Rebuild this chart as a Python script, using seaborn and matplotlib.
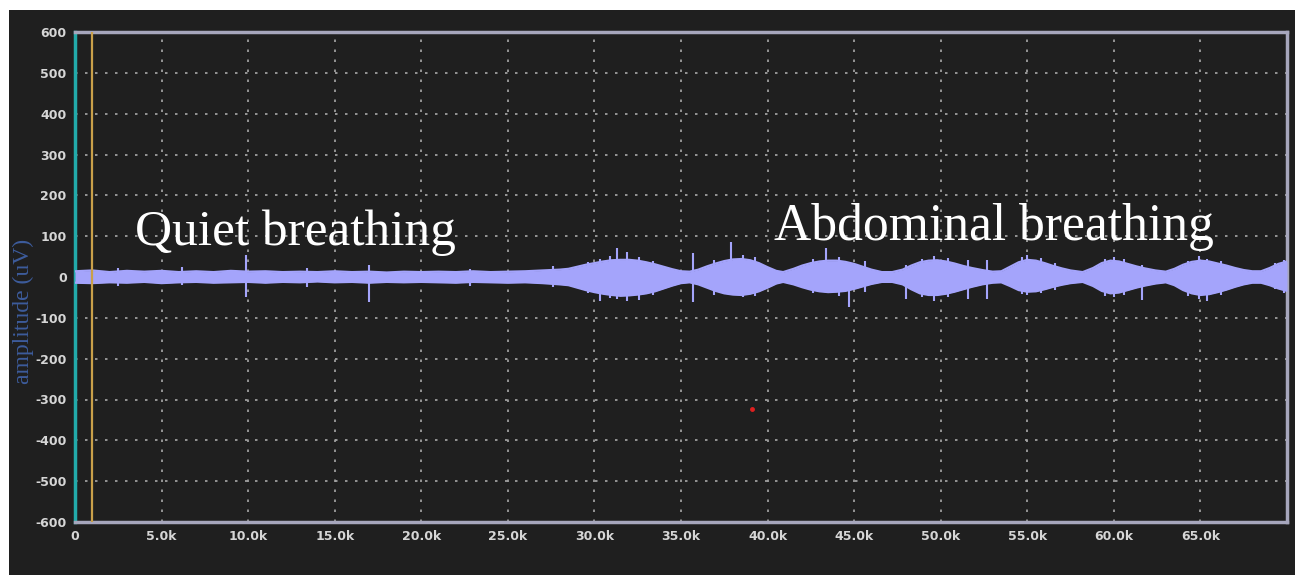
import matplotlib
matplotlib.use("Agg")
import matplotlib.pyplot as plt
from matplotlib.patches import Rectangle
import numpy as np
import pandas as pd
import seaborn as sns

# envelope of the signal, x in thousands of samples, amplitude in uV
ENV_X = [0, 1, 2, 3, 4, 5, 6, 7, 8, 9, 10, 11, 12, 13, 14, 15, 16, 17, 18, 19,
         20, 21, 22, 23, 24, 25, 26, 27, 28, 28.5,
         29, 29.5, 30, 30.5, 31, 31.5, 32, 32.5, 33, 33.5, 34, 34.5, 35, 35.5,
         36, 36.5, 37, 37.5, 38, 38.5, 39, 39.5, 40, 40.5, 40.9,
         41.5, 42, 42.5, 43, 43.5, 44, 44.5, 45, 45.5, 46, 46.6, 47.2,
         47.8, 48.3, 48.8, 49.3, 49.8, 50.3, 50.8, 51.3, 51.8, 52.4, 53, 53.5,
         54, 54.5, 55, 55.5, 56, 56.5, 57, 57.5, 58.2,
         58.8, 59.3, 59.8, 60.3, 60.8, 61.3, 61.8, 62.4, 63,
         63.5, 64, 64.5, 65, 65.5, 66, 66.5, 67, 67.5, 68, 68.5,
         69, 69.5, 70]
ENV_TOP = [14, 16, 12, 15, 13, 15, 12, 14, 12, 15, 13, 14, 12, 13, 12, 14, 12, 13, 11, 13,
           12, 13, 12, 14, 12, 13, 14, 16, 18, 20,
           25, 30, 34, 38, 41, 42, 42, 40, 36, 31, 25, 19, 14, 13,
           18, 26, 33, 39, 43, 44, 41, 34, 24, 15, 12,
           20, 28, 34, 38, 40, 40, 37, 32, 25, 18, 12, 12,
           18, 28, 36, 40, 41, 38, 33, 27, 22, 17, 13, 14,
           25, 36, 42, 40, 34, 27, 21, 16, 12,
           22, 34, 40, 38, 32, 26, 21, 16, 13,
           20, 30, 37, 40, 38, 33, 28, 22, 17, 14, 14,
           22, 32, 38]
ENV_BOT = [-14, -15, -13, -14, -12, -15, -13, -12, -14, -13, -12, -14, -12, -13, -11, -13, -12, -14, -12, -13,
           -12, -13, -14, -12, -13, -14, -13, -15, -18, -20,
           -26, -32, -37, -41, -44, -46, -45, -43, -40, -35, -28, -21, -15, -13,
           -18, -26, -34, -40, -43, -44, -41, -35, -26, -16, -12,
           -18, -25, -31, -35, -37, -36, -34, -29, -23, -17, -12, -12,
           -18, -30, -40, -44, -44, -41, -36, -30, -24, -18, -14, -13,
           -22, -32, -36, -35, -30, -24, -19, -15, -12,
           -22, -34, -40, -38, -32, -26, -21, -16, -13,
           -20, -32, -40, -44, -42, -37, -31, -24, -18, -14, -14,
           -20, -28, -34]

# isolated spikes and hairs on the bursts: position, top, bottom
SPIKE_X = [2.5, 6.2, 9.9, 13.4, 17.0, 22.8, 27.6,
           29.6, 30.3, 30.9, 31.3, 31.9, 32.6, 33.4,
           35.7, 36.9, 37.9, 38.6, 39.3,
           42.6, 43.4, 44.1, 44.7, 45.6,
           48.0, 48.9, 49.6, 50.4, 51.6, 52.7,
           54.7, 55.0, 55.8, 56.6,
           59.5, 60.0, 60.6, 61.6,
           64.3, 64.9, 65.4, 66.2,
           69.3, 69.8]
SPIKE_TOP = [22, 24, 54, 22, 30, 20, 26,
             36, 45, 52, 70, 62, 50, 40,
             58, 42, 86, 55, 48,
             44, 70, 48, 30, 40,
             30, 44, 52, 46, 42, 42,
             48, 55, 46, 34,
             44, 50, 44, 30,
             40, 52, 45, 38,
             34, 42]
SPIKE_BOT = [-22, -20, -50, -24, -60, -22, -24,
             -38, -58, -52, -55, -58, -56, -44,
             -62, -44, -30, -50, -46,
             -38, -30, -46, -73, -36,
             -55, -48, -58, -50, -55, -55,
             -42, -45, -40, -32,
             -46, -48, -44, -56,
             -46, -55, -58, -44,
             -30, -38]

Y_TICKS = [600, 500, 400, 300, 200, 100, 0, -100, -200, -300, -400, -500, -600]
X_TICKS = [0, 5, 10, 15, 20, 25, 30, 35, 40, 45, 50, 55, 60, 65]
X_TICK_LABELS = ["0", "5.0k", "10.0k", "15.0k", "20.0k", "25.0k", "30.0k", "35.0k",
                 "40.0k", "45.0k", "50.0k", "55.0k", "60.0k", "65.0k"]

MARKER_X = 1.0
RED_DOT = (39.1, -323)

BG = "#1f1f1f"
SIGNAL = "#a4a4fb"

sns.set_style("dark")
plt.rcParams["font.family"] = ["DejaVu Sans"]

fig = plt.figure(figsize=(12.95, 5.75), dpi=100, facecolor="white")
fig.patches.append(Rectangle((9 / 1295, 0), 1 - 9 / 1295, 1 - 10 / 575,
                             transform=fig.transFigure, facecolor=BG,
                             edgecolor="none", zorder=-5))
ax = fig.add_axes([75 / 1295, 53 / 575, (1287 - 75) / 1295, (522 - 32) / 575])
ax.set_facecolor(BG)

env = pd.DataFrame({"x": ENV_X, "top": ENV_TOP, "bot": ENV_BOT})
ax.fill_between(env["x"], env["bot"], env["top"], color=SIGNAL, lw=0, zorder=3)
sns.lineplot(data=env, x="x", y="top", ax=ax, color=SIGNAL, lw=1.6, zorder=3)
sns.lineplot(data=env, x="x", y="bot", ax=ax, color=SIGNAL, lw=1.6, zorder=3)
ax.vlines(SPIKE_X, SPIKE_BOT, SPIKE_TOP, color=SIGNAL, lw=1.5, zorder=3)

ax.axvline(MARKER_X, color="#c9a04a", lw=1.6, zorder=4)
ax.plot([RED_DOT[0]], [RED_DOT[1]], "o", color="#e02020", ms=2.5, zorder=4)

ax.set_xlim(0, 70)
ax.set_ylim(-600, 600)
ax.set_yticks(Y_TICKS)
ax.set_yticklabels([str(v) for v in Y_TICKS])
ax.set_xticks(X_TICKS)
ax.set_xticklabels(X_TICK_LABELS)
ax.tick_params(length=0, colors="#d6d6d6", labelsize=9, pad=6)
for lab in ax.get_xticklabels() + ax.get_yticklabels():
    lab.set_fontweight("bold")
ax.set_xlabel("")
ax.set_ylabel("")

ax.grid(True, color="#a8a8a8", lw=1.2, linestyle=(0, (1.5, 4.5)), zorder=1)
for side in ["top", "bottom", "right"]:
    ax.spines[side].set_color("#a6a6bc")
    ax.spines[side].set_linewidth(2.5)
    ax.spines[side].set_visible(True)
ax.spines["left"].set_color("#22aaaa")
ax.spines["left"].set_linewidth(2.5)
ax.spines["left"].set_visible(True)

ax.text(3.45, 79, "Quiet breathing", color="white", fontsize=37,
        family=["Liberation Serif", "DejaVu Serif"], ha="left", va="baseline", zorder=5)
ax.text(40.4, 91, "Abdominal breathing", color="white", fontsize=37.2,
        family=["Liberation Serif", "DejaVu Serif"], ha="left", va="baseline", zorder=5)

fig.text(23 / 1295, 1 - 311 / 575, "amplitude (uV)", rotation=90, color="#3d5c9c",
         fontsize=17, family=["Liberation Serif", "DejaVu Serif"],
         ha="center", va="center")

fig.savefig("out.png", dpi=100, facecolor=fig.get_facecolor())
